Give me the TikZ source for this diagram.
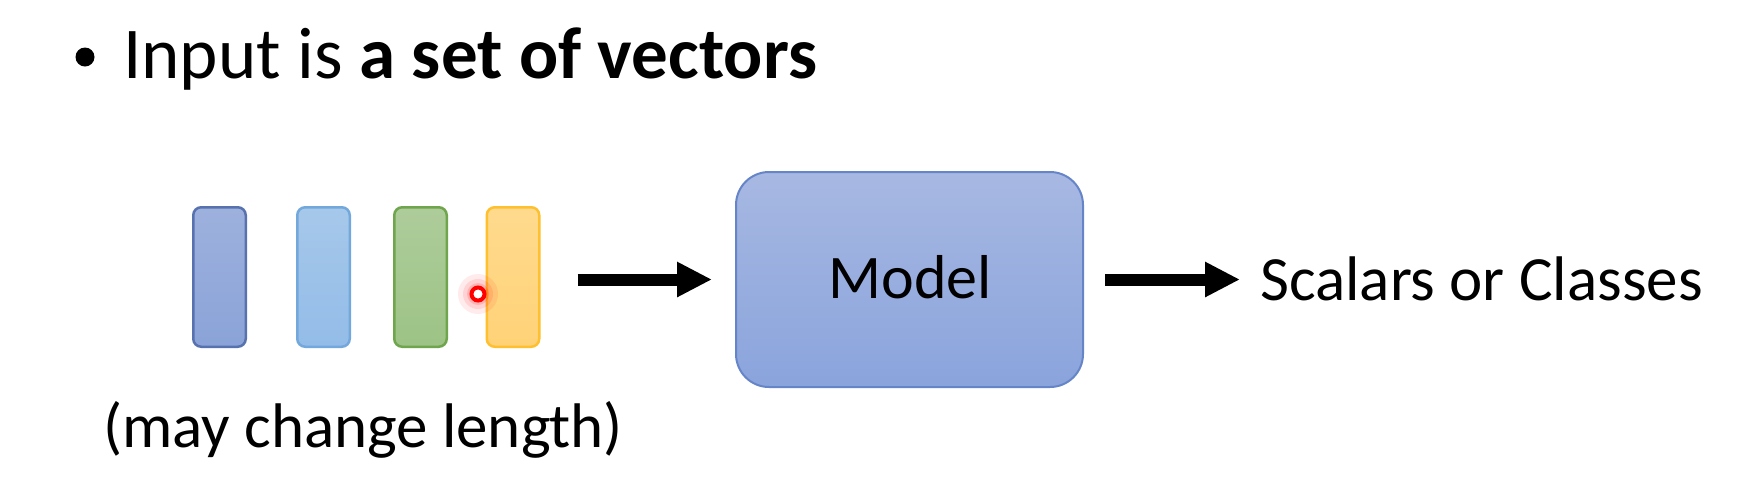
\documentclass[tikz,border=0pt]{standalone}
\usepackage{fontspec}
\setmainfont{Carlito}
\usetikzlibrary{arrows.meta}
\definecolor{vAfill}{HTML}{9EB1DD}\definecolor{vAfillb}{HTML}{8AA3D8}\definecolor{vAline}{HTML}{5872B0}
\definecolor{vBfill}{HTML}{A6C8EA}\definecolor{vBfillb}{HTML}{93BCE8}\definecolor{vBline}{HTML}{72A8DC}
\definecolor{vCfill}{HTML}{ADCC9A}\definecolor{vCfillb}{HTML}{9DC386}\definecolor{vCline}{HTML}{6FA54C}
\definecolor{vDfill}{HTML}{FFDA8E}\definecolor{vDfillb}{HTML}{FFD277}\definecolor{vDline}{HTML}{FFC030}
\definecolor{mFill}{HTML}{A7B8E2}\definecolor{mFillb}{HTML}{8AA4DC}\definecolor{mLine}{HTML}{6585C8}
\begin{document}
\begin{tikzpicture}[x=1pt,y=-1pt,
  vec/.style={rounded corners=8pt, line width=2.5pt, minimum width=52.5pt, minimum height=139.5pt, inner sep=0pt},
  arr/.style={line width=12pt, -{Triangle[length=35pt,width=33pt]}},
  body/.style={font=\fontsize{63}{75}\selectfont, inner sep=0pt},
]
\useasboundingbox[fill=white] (0,0) rectangle (1760,499);

% title
\node[circle, fill=black, minimum size=19pt, inner sep=0pt] (bullet) at (85,57) {};
\node[font=\fontsize{73}{86}\selectfont, inner sep=0pt, anchor=base west] (title) at (123,78) {Input is \textbf{a set of vectors}};

% vectors
\node[vec, draw=vAline, top color=vAfill, bottom color=vAfillb] (v1) at (219.5,277) {};
\node[vec, draw=vBline, top color=vBfill, bottom color=vBfillb] (v2) at (323.5,277) {};
\node[vec, draw=vCline, top color=vCfill, bottom color=vCfillb] (v3) at (420.5,277) {};
\node[vec, draw=vDline, top color=vDfill, bottom color=vDfillb] (v4) at (513,277) {};

% pointer
\fill[red, opacity=0.08] (478,294) circle[radius=20pt];
\fill[red, opacity=0.10] (478,294) circle[radius=15pt];
\fill[red, opacity=0.15] (478,294) circle[radius=11pt];
\node[circle, draw=red, line width=4pt, fill=white, minimum size=13pt, inner sep=0pt] (pointer) at (478,294) {};

\node[body, anchor=base west] (len) at (103,447) {(may change length)};

% model
\node[rounded corners=33pt, line width=2pt, draw=mLine, top color=mFill, bottom color=mFillb,
      minimum width=347pt, minimum height=215pt, inner sep=0pt] (model) at (909.5,279.5) {};
\node[body, font=\fontsize{62}{74}\selectfont, anchor=base] (mtext) at (910,298) {Model};

\node[body, anchor=base west] (out) at (1260,300) {Scalars or Classes};

% arrows
\draw[arr, shorten <=37pt, shorten >=23pt] (v4.east |- model.west) -- (model.west);
\draw[arr, shorten <=21pt, shorten >=20pt] (model.east) -- (model.east -| out.west);
\end{tikzpicture}
\end{document}
